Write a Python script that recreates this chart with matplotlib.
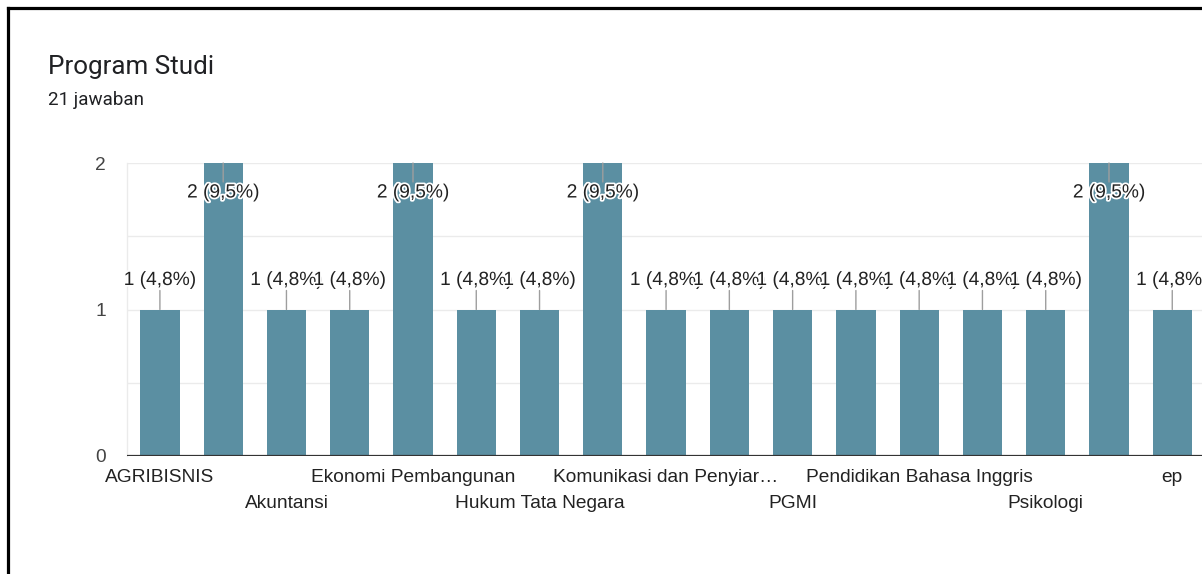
import matplotlib
matplotlib.use('Agg')
import matplotlib.pyplot as plt
import matplotlib.patheffects as pe
from matplotlib.lines import Line2D

'''
Program Studi - 21 jawaban
'''
# only every other category name is visible in the chart
categories = ['AGRIBISNIS', '', 'Akuntansi', '', 'Ekonomi Pembangunan', '',
              'Hukum Tata Negara', '', 'Komunikasi dan Penyiar\u2026', '', 'PGMI', '',
              'Pendidikan Bahasa Inggris', '', 'Psikologi', '', 'ep']
counts = [1, 2, 1, 1, 2, 1, 1, 2, 1, 1, 1, 1, 1, 1, 1, 2, 1]
total = 21
y_ticks = [0, 1, 2]

bar_color = '#5b8fa2'
text_color = '#222222'
fs = 13.8

fig = plt.figure(figsize=(12.02, 5.74), dpi=100)
ax = fig.add_axes([127 / 1202, 118 / 574, 1 - 127 / 1202, 293 / 574])

x = list(range(len(categories)))
ax.bar(x, counts, width=0.62, color=bar_color, zorder=2)
ax.set_xlim(-0.52, 16.47)
ax.set_ylim(0, 2)

# grid
for g in [0.5, 1, 1.5, 2]:
    ax.axhline(g, color='#ebebeb', lw=1, zorder=1)
ax.axhline(0, color='#333333', lw=1.6, zorder=3)

for s in ['top', 'right', 'bottom']:
    ax.spines[s].set_visible(False)
ax.spines['left'].set_color('#ebebeb')
ax.spines['left'].set_linewidth(1)

ax.set_xticks([])
ax.set_yticks(y_ticks)
ax.set_yticklabels([str(t) for t in y_ticks], fontsize=fs, color='#444444',
                   family='Liberation Sans')
ax.tick_params(axis='y', length=0, pad=15)

# data labels with leader lines
halo = [pe.withStroke(linewidth=2.5, foreground='white')]
for i, c in enumerate(counts):
    pct = ('%.1f' % (100.0 * c / total)).replace('.', ',')
    label = '%d (%s%%)' % (c, pct)
    if c == max(counts):
        line_off, text_off = -19, -30
    else:
        line_off, text_off = 19, 29
    ax.annotate('', xy=(i, c), xytext=(0, line_off), textcoords='offset pixels',
                arrowprops=dict(arrowstyle='-', color='#9e9e9e', lw=1,
                                shrinkA=0, shrinkB=0), zorder=4, annotation_clip=False)
    ax.annotate(label, xy=(i, c), xytext=(0, text_off), textcoords='offset pixels',
                ha='center', va='center', fontsize=fs, color=text_color,
                family='Liberation Sans', path_effects=halo, zorder=5,
                annotation_clip=False)

# category labels in two staggered rows
for i, name in enumerate(categories):
    if not name:
        continue
    off = -21 if (i // 2) % 2 == 0 else -47
    ax.annotate(name, xy=(i, 0), xycoords=('data', 'axes fraction'),
                xytext=(0, off), textcoords='offset pixels', ha='center', va='center',
                fontsize=fs, color=text_color, family='Liberation Sans',
                annotation_clip=False)

fig.text(48 / 1202, 1 - 67 / 574, 'Program Studi', fontsize=18.7, color='#202124',
         family='Roboto', va='center', ha='left')
fig.text(48 / 1202, 1 - 100 / 574, '21 jawaban', fontsize=13.5, color='#202124',
         family='Roboto', va='center', ha='left')

# card border (left and top edge of screenshot)
fig.add_artist(Line2D([7.5 / 1202, 7.5 / 1202], [0, 1 - 7.5 / 574],
                      transform=fig.transFigure, color='black', lw=2.3))
fig.add_artist(Line2D([7.5 / 1202, 1], [1 - 7.5 / 574, 1 - 7.5 / 574],
                      transform=fig.transFigure, color='black', lw=2.3))

plt.savefig('out.png', dpi=100)
